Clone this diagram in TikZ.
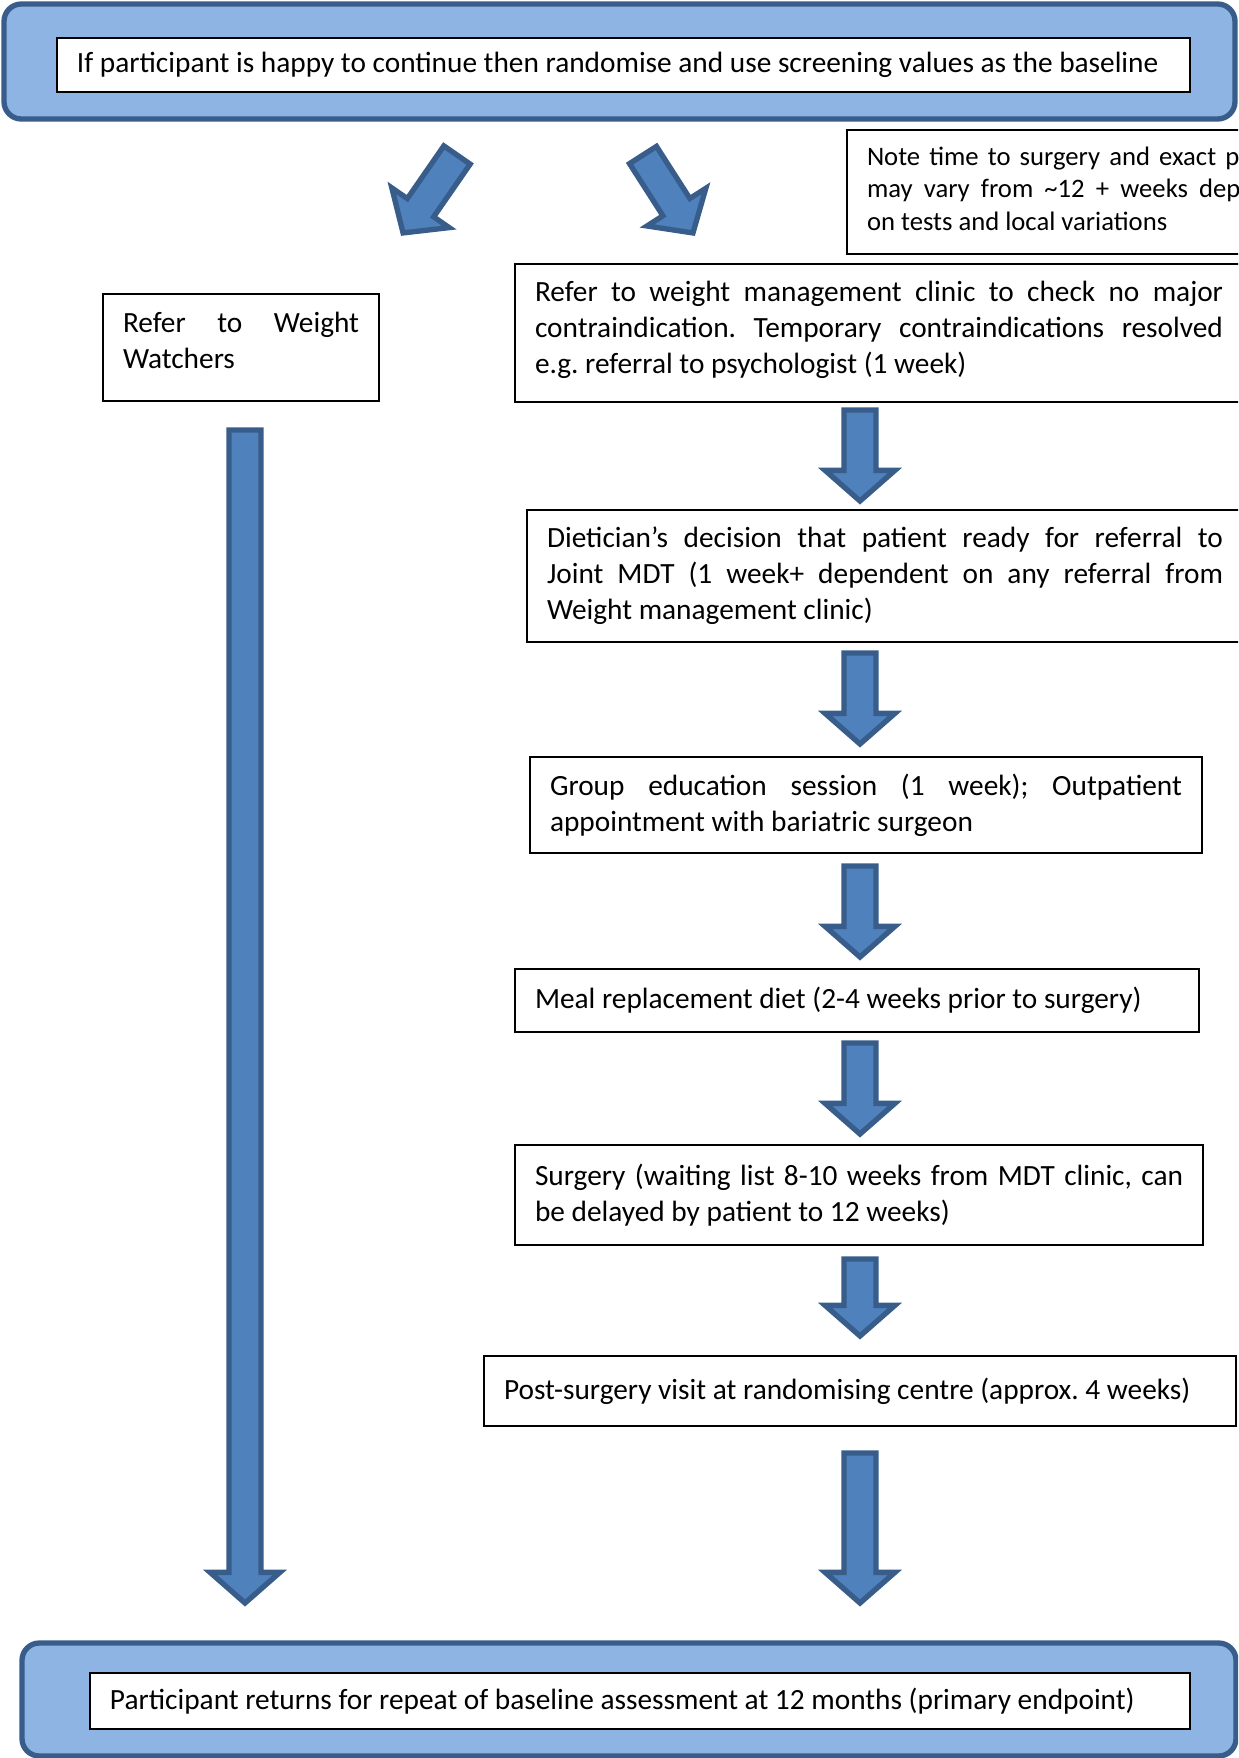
\documentclass[tikz,border=0pt]{standalone}
\usepackage{fontspec}
\setmainfont{Carlito}
\usetikzlibrary{calc}
\definecolor{bannerblue}{HTML}{8EB4E3}
\definecolor{arrowblue}{HTML}{4F81BD}
\definecolor{edgeblue}{HTML}{385D8A}
\frenchspacing

\newcommand\blockarrow[2]{%
  \coordinate (ba-tail) at (#1);
  \coordinate (ba-tip) at (#2);
  \draw[blockarr] let \p1=($(ba-tip)-(ba-tail)$), \n1={veclen(\x1,\y1)}, \n2={atan2(\y1,\x1)} in
    [shift={(ba-tail)},rotate=\n2]
    (0pt,6pt) -- ({\n1-11.5pt},6pt) -- ({\n1-11.5pt},13.1pt) -- (\n1,0pt)
    -- ({\n1-11.5pt},-13.1pt) -- ({\n1-11.5pt},-6pt) -- (0pt,-6pt) -- cycle;}

\begin{document}
\begin{tikzpicture}[x=0.375pt,y=-0.375pt,
  box/.style={draw,fill=white,line width=0.75pt,anchor=north west,inner xsep=7.5pt,inner ysep=0pt,
    align=justify,font=\fontsize{11}{13.5}\selectfont},
  banner/.style={draw=edgeblue,fill=bannerblue,line width=2pt,rounded corners=6.5pt},
  blockarr/.style={draw=edgeblue,fill=arrowblue,line width=2pt}]
  \useasboundingbox (0,0) rectangle (1238,1758);
  \clip (0,0) rectangle (1238,1758);

  \draw[banner] (4,4) rectangle (1235,119);
  \draw[banner] (22,1643) rectangle (1236,1756);
  \node[box,text width=409.9pt,minimum height=20.25pt] (start) at (56,37)
    {\mbox{If participant is happy to continue then randomise and use screening values as the baseline}};
  \node[box,text width=397.5pt,minimum height=21pt] (end) at (89,1672)
    {Participant returns for repeat of baseline assessment at 12 months (primary endpoint)};

  \node[box,text width=169pt,minimum height=46.5pt,font=\fontsize{10}{12.2}\selectfont] (note) at (846,129)
    {Note time to surgery and exact pathway\linebreak may vary from \textasciitilde12 + weeks dependent\linebreak on tests and local variations\par\kern2.5pt};
  \node[box,text width=88.5pt,minimum height=40.1pt] (wbox) at (102,293)
    {Refer to Weight\linebreak Watchers\par\kern5pt};
  \node[box,text width=258pt,minimum height=51.75pt] (ref) at (514,263)
    {Refer to weight management clinic to check no major\linebreak contraindication. Temporary contraindications resolved\linebreak e.g. referral to psychologist (1 week)\par\kern2.5pt};
  \node[box,text width=253.5pt,minimum height=49.5pt] (diet) at (526,509)
    {Dietician's decision that patient ready for referral to\linebreak Joint MDT (1 week+ dependent on any referral from\linebreak Weight management clinic)};
  \node[box,text width=237pt,minimum height=36pt] (group) at (529,756)
    {Group education session (1 week); Outpatient\linebreak appointment with bariatric surgeon};
  \node[box,text width=241.5pt,minimum height=23.6pt] (meal) at (514,968)
    {Meal replacement diet (2-4 weeks prior to surgery)};
  \node[box,text width=243pt,minimum height=37.5pt] (surg) at (514,1144)
    {Surgery (waiting list 8-10 weeks from MDT clinic, can\linebreak be delayed by patient to 12 weeks)};
  \node[box,text width=267pt,minimum height=26.25pt] (post) at (483,1355)
    {Post-surgery visit at randomising centre (approx. 4 weeks)};

  % block arrows
  \coordinate (lx) at (245,0);
  \coordinate (rx) at (860,0);
  \blockarrow{457,155}{403,233}
  \blockarrow{643,155}{693,233}
  \blockarrow{$(lx |- wbox.south)+(0,28)$}{$(lx |- end.north)+(0,-69)$}
  \blockarrow{$(rx |- ref.south)+(0,7)$}{$(rx |- diet.north)+(0,-8)$}
  \blockarrow{$(rx |- diet.south)+(0,10)$}{$(rx |- group.north)+(0,-12)$}
  \blockarrow{$(rx |- group.south)+(0,12)$}{$(rx |- meal.north)+(0,-11)$}
  \blockarrow{$(rx |- meal.south)+(0,10)$}{$(rx |- surg.north)+(0,-10)$}
  \blockarrow{$(rx |- surg.south)+(0,13)$}{$(rx |- post.north)+(0,-19)$}
  \blockarrow{$(rx |- post.south)+(0,26)$}{$(rx |- end.north)+(0,-69)$}
\end{tikzpicture}
\end{document}
